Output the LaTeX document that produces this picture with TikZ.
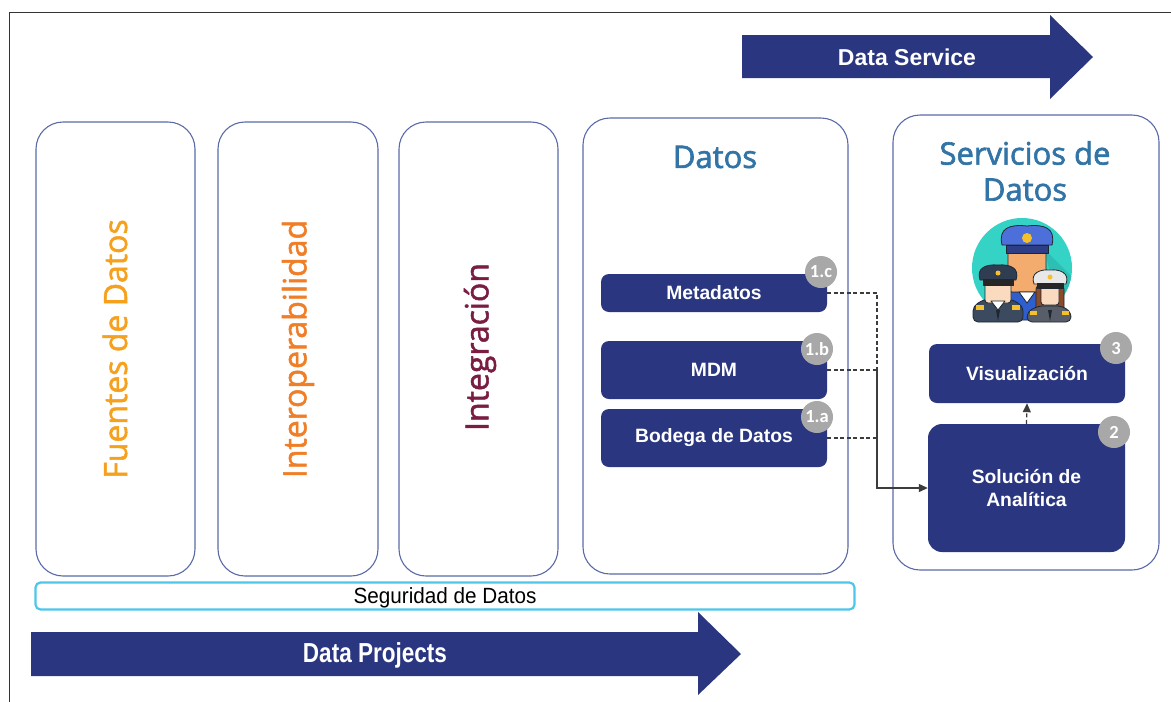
\documentclass[tikz,border=0pt]{standalone}
\usepackage{fontspec}
\setmainfont{Liberation Sans}
\newfontfamily\osans[FakeBold=1.6]{Open Sans}
\newfontfamily\osanstitle[FakeBold=2]{Open Sans}
\newfontfamily\narrowsans[FakeStretch=0.82]{Liberation Sans}
\newfontfamily\bandsans[FakeStretch=0.94]{Liberation Sans}
\newfontfamily\badgefont{Carlito}
\usetikzlibrary{arrows.meta}
\definecolor{navy}{HTML}{2A3780}
\definecolor{frameblue}{HTML}{5A6AA8}
\definecolor{titleblue}{HTML}{3274A6}
\definecolor{fuentes}{HTML}{F6A11E}
\definecolor{interop}{HTML}{F07E26}
\definecolor{integ}{HTML}{7A1D42}
\definecolor{badgegray}{HTML}{A8A8A8}
\definecolor{secucyan}{HTML}{4CC6EA}
\definecolor{linkgray}{HTML}{3C3C3C}
% officer icon palette
\definecolor{iconteal}{HTML}{35D3C6}
\definecolor{iconshade}{HTML}{2DBFB3}
\definecolor{capblue}{HTML}{4C6FDA}
\definecolor{bandblue}{HTML}{2D3E87}
\definecolor{skinorange}{HTML}{F4AC6E}
\definecolor{suitblue}{HTML}{2F5FCF}
\definecolor{capslate}{HTML}{2F3D52}
\definecolor{suitslate}{HTML}{3B4A5E}
\definecolor{skinlight}{HTML}{FADBC0}
\definecolor{hairbrown}{HTML}{8A4B2A}
\definecolor{suitgray}{HTML}{585E69}
\definecolor{capwhite}{HTML}{E8E8E8}
\definecolor{gold}{HTML}{F5C02A}
\definecolor{outline}{HTML}{1E2630}
\tikzset{
  column/.style={draw=frameblue, line width=1.1pt, rounded corners=27pt, fill=white},
  navybox/.style={fill=navy, rounded corners=8pt, text=white, font=\bfseries\fontsize{19.3}{23}\selectfont, align=center},
  badge/.style={circle, fill=badgegray, text=white, minimum size=32pt, inner sep=0pt, font=\badgefont\bfseries\fontsize{18.5}{18}\selectfont},
  vtext/.style={rotate=90, font=\osans\fontsize{32}{32}\selectfont},
  title/.style={text=titleblue, font=\osanstitle\fontsize{31}{36}\selectfont, align=center},
  arrowbody/.style={fill=navy},
  iconpart/.style={draw=outline, line width=0.8pt, line join=round},
  link/.style={draw=linkgray, line width=1.2pt, dash pattern=on 4pt off 2.5pt},
  solidlink/.style={draw=linkgray, line width=1.2pt, -{Triangle[length=9pt,width=8pt]}}
}
\begin{document}
\begin{tikzpicture}[x=1pt,y=-1pt]
\useasboundingbox (0,0) rectangle (1171,702);

% page frame (top and left rules)
\draw[line width=1pt, black!80] (9,702) -- (9,12) -- (1171,12);

% Data Service arrow
\fill[arrowbody] (742,35) -- (1050,35) -- (1050,15) -- (1093,57) -- (1050,99) -- (1050,78) -- (742,78) -- cycle;
\node[text=white, font=\bfseries\fontsize{23}{24}\selectfont] (dserv) at (907,57) {Data Service};

% the five columns
\node[column, minimum width=159pt, minimum height=454pt] (fuentes) at (115.5,349) {};
\node[column, minimum width=160pt, minimum height=454pt] (interop) at (298,349) {};
\node[column, minimum width=159pt, minimum height=454pt] (integ) at (478.5,349) {};
\node[column, minimum width=265pt, minimum height=456pt] (datos) at (715.5,346) {};
\node[column, minimum width=266pt, minimum height=455pt] (servicios) at (1026,342.5) {};

% column captions
\node[vtext, text=fuentes] (tfuentes) at (115,349) {Fuentes de Datos};
\node[vtext, text=interop] (tinterop) at (298,349) {Interoperabilidad};
\node[vtext, text=integ] (tinteg) at (480,347) {Integración};
\node[title] (tdatos) at (715,157) {Datos};
\node[title] (tserv) at (1025,171) {Servicios de\\Datos};

% officers icon
\begin{scope}
  \fill[iconteal] (1022,268) circle (50);
  \begin{scope}
    \clip (1022,268) circle (50);
    \fill[iconshade] (1045,250) -- (1080,285) -- (1080,330) -- (1062,330) -- cycle;
  \end{scope}
  % back officer
  \filldraw[iconpart, fill=suitblue, rounded corners=6pt] (1003,320) -- (1003,292) -- (1057,292) -- (1057,320) -- cycle;
  \filldraw[iconpart, fill=skinorange, rounded corners=4pt] (1008,250) rectangle (1046,292);
  \filldraw[iconpart, fill=white] (1019,292) -- (1035,292) -- (1027,303) -- cycle;
  \filldraw[iconpart, fill=capblue] (1002,245) .. controls (998,228) and (1010,224) .. (1027,226) .. controls (1044,224) and (1056,228) .. (1052,245) -- cycle;
  \filldraw[iconpart, fill=bandblue] (1006,245) rectangle (1048,253);
  \fill[gold] (1027,238) circle (5);
  % front left officer
  \filldraw[iconpart, fill=suitslate, rounded corners=5pt] (973,322) -- (973,306) -- (985,299) -- (1011,299) -- (1023,306) -- (1023,322) -- cycle;
  \fill[gold] (976,305) rectangle (984,310);
  \fill[gold] (1012,305) rectangle (1020,310);
  \filldraw[iconpart, fill=skinlight, rounded corners=3pt] (985,282) rectangle (1011,303);
  \filldraw[iconpart, fill=white] (991,301) -- (1005,301) -- (998,310) -- cycle;
  \filldraw[iconpart, fill=capslate] (980,280) .. controls (976,268) and (986,264) .. (998,265) .. controls (1010,264) and (1020,268) .. (1016,280) -- cycle;
  \filldraw[iconpart, fill=black!85] (983,279) rectangle (1013,285);
  \fill[gold] (998,273) circle (2.5);
  \fill[outline] (996,310) -- (1000,310) -- (998,321) -- cycle;
  % front right officer
  \filldraw[iconpart, fill=hairbrown, rounded corners=4pt] (1036,285) rectangle (1064,312);
  \filldraw[iconpart, fill=suitgray, rounded corners=5pt] (1027,322) -- (1027,312) -- (1038,306) -- (1062,306) -- (1071,312) -- (1071,322) -- cycle;
  \fill[gold] (1030,311) rectangle (1037,315);
  \fill[gold] (1062,311) rectangle (1069,315);
  \filldraw[iconpart, fill=skinlight, rounded corners=3pt] (1041,286) rectangle (1059,305);
  \filldraw[iconpart, fill=capwhite] (1034,284) .. controls (1030,273) and (1040,269) .. (1050,270) .. controls (1060,269) and (1070,273) .. (1066,284) -- cycle;
  \filldraw[iconpart, fill=black!85] (1037,283) rectangle (1063,288);
  \fill[gold] (1050,277) circle (2.5);
  \fill[outline] (1048,310) -- (1052,310) -- (1050,321) -- cycle;
\end{scope}

% data layer boxes
\node[navybox, minimum width=226pt, minimum height=38pt] (meta) at (714,293) {Metadatos};
\node[navybox, minimum width=226pt, minimum height=58pt] (mdm) at (714,370) {MDM};
\node[navybox, minimum width=226pt, minimum height=58pt] (bodega) at (714,438) {Bodega de Datos};

% service boxes
\node[navybox, minimum width=196pt, minimum height=59pt] (vis) at (1027,373.5) {Visualización};
\node[navybox, rounded corners=14pt, minimum width=197pt, minimum height=128pt] (sol) at (1026.5,488) {Solución de\\Analítica};

% numbered badges
\node[badge] (b1c) at (821,272) {1.c};
\node[badge] (b1b) at (817,349) {1.b};
\node[badge] (b1a) at (817,417) {1.a};
\node[badge] (b3) at (1116,348) {3};
\node[badge] (b2) at (1114,432) {2};

% connectors
\coordinate (jx) at (877,0);
\draw[link] (meta.east) -- (meta.east -| jx) -- (mdm.east -| jx);
\draw[link] (mdm.east) -- (mdm.east -| jx);
\draw[link] (bodega.east) -- (bodega.east -| jx);
\draw[solidlink] (mdm.east -| jx) |- (sol.west);
\draw[link, -{Triangle[length=9pt,width=8pt]}] (sol.north) -- (vis.south);

% security band
\node[draw=secucyan, line width=2.2pt, rounded corners=5pt, fill=white, minimum width=819pt, minimum height=27pt] (segur) at (445,596) {};
\node[font=\bandsans\fontsize{22}{22}\selectfont] (segurtext) at (445,598) {Seguridad de Datos};

% Data Projects arrow
\fill[arrowbody] (31,632) -- (698,632) -- (698,612) -- (741,654) -- (698,695) -- (698,676) -- (31,676) -- cycle;
\node[text=white, font=\narrowsans\bfseries\fontsize{27.5}{28}\selectfont] (dproj) at (375,655) {Data Projects};
\end{tikzpicture}
\end{document}
